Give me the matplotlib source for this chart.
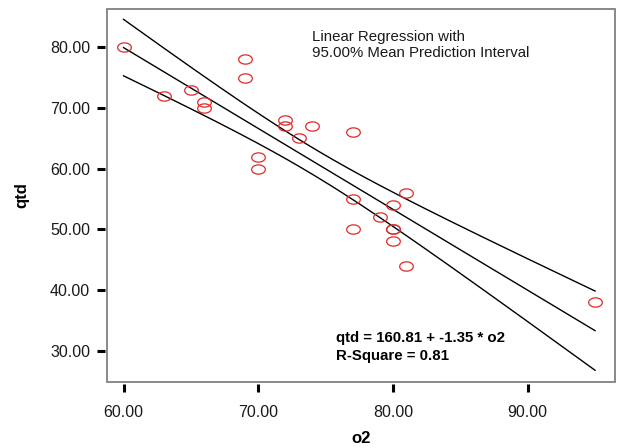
import numpy as np
import matplotlib
matplotlib.use("Agg")
import matplotlib.pyplot as plt
from matplotlib.path import Path
from matplotlib.patches import Rectangle

plt.rcParams['font.family'] = ['Liberation Sans', 'DejaVu Sans']

# data
o2 = [60, 63, 65, 66, 66, 69, 69, 70, 70, 72, 72, 73, 74,
      77, 77, 77, 79, 80, 80, 80, 80, 81, 81, 95]
qtd = [80, 72, 73, 71, 70, 78, 75, 62, 60, 68, 67, 65, 67,
       66, 55, 50, 52, 54, 50, 50, 48, 56, 44, 38]
x_ticks = [60, 70, 80, 90]
y_ticks = [30, 40, 50, 60, 70, 80]
title_text = "Linear Regression with\n95.00% Mean Prediction Interval"
eq_text = "qtd = 160.81 + -1.35 * o2\nR-Square = 0.81"

x = np.array(o2, float)
y = np.array(qtd, float)
n = len(x)
b, a = np.polyfit(x, y, 1)
resid = y - (a + b * x)
s = np.sqrt(np.sum(resid ** 2) / (n - 2))
sxx = np.sum((x - x.mean()) ** 2)
t = 2.0739  # t(0.975, df=22)
xs = np.linspace(x.min(), x.max(), 200)
fit = a + b * xs
half = t * s * np.sqrt(1.0 / n + (xs - x.mean()) ** 2 / sxx)

fig = plt.figure(figsize=(6.17, 4.48), dpi=100)
ax = fig.add_axes([106.7 / 617, (448 - 381.7) / 448, (615 - 106.7) / 617, (381.7 - 9.3) / 448])

for yy in (fit + half, fit, fit - half):
    ax.plot(xs, yy, color='black', lw=1.0, zorder=2)

theta = np.linspace(0, 2 * np.pi, 60)
ell = Path(np.column_stack([np.cos(theta), 0.68 * np.sin(theta)]), closed=True)
ax.plot(x, y, linestyle='none', marker=ell, markersize=9.8, markerfacecolor='none',
        markeredgecolor='#e02828', markeredgewidth=0.9, zorder=3)

ax.set_xlim(58.75, 96.48)
ax.set_ylim(24.89, 86.26)
ax.set_xticks(x_ticks)
ax.set_xticklabels([f"{v:.2f}" for v in x_ticks])
ax.set_yticks(y_ticks)
ax.set_yticklabels([f"{v:.2f}" for v in y_ticks])

for sp in ax.spines.values():
    sp.set_visible(False)
ax.spines['left'].set_position(('outward', 1.5))
ax.spines['bottom'].set_position(('outward', 1.5))
ax.add_patch(Rectangle((0, 0), 1, 1, transform=ax.transAxes, fill=False,
                       edgecolor='#808080', lw=1.3, clip_on=False, zorder=5))

ax.tick_params(axis='both', direction='out', length=5.5, width=2.2, color='black',
               labelsize=11.5, labelcolor='#1a1a1a')
ax.tick_params(axis='x', pad=10)
ax.tick_params(axis='y', pad=5)

ax.set_xlabel('o2', fontsize=12, fontweight='bold', labelpad=8)
ax.set_ylabel('qtd', fontsize=12, fontweight='bold', labelpad=15)

ax.text(311.7 / 617, 1 - 30 / 448, title_text, transform=fig.transFigure,
        fontsize=10.8, va='top', ha='left', linespacing=1.2, color='#1a1a1a')
ax.text(336 / 617, 1 - 331 / 448, eq_text, transform=fig.transFigure,
        fontsize=10.8, fontweight='bold', va='top', ha='left', linespacing=1.4)

fig.savefig('out.png', dpi=100)
